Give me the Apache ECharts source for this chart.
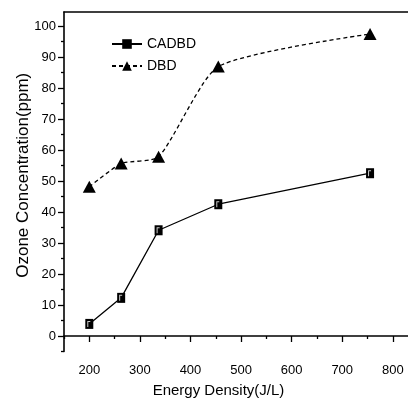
<!DOCTYPE html>
<html>
<head>
<meta charset="utf-8">
<script src="https://cdn.jsdelivr.net/npm/echarts@6/dist/echarts.min.js"></script>
<style>
  html, body { margin: 0; padding: 0; background: #fff; }
  #chart { width: 408px; height: 398px; }
</style>
</head>
<body>
<div id="chart"></div>
<script>
const energy = [200, 263, 337, 455, 755]
const cadbd = [3.9, 12.3, 34.1, 42.5, 52.5]
const dbd = [48.1, 55.6, 57.8, 86.9, 97.4]

const xMajor = [200, 300, 400, 500, 600, 700, 800]
const xMinor = [150, 250, 350, 450, 550, 650, 750]
const yMajor = [0, 10, 20, 30, 40, 50, 60, 70, 80, 90, 100]
const yMinor = [-5, 5, 15, 25, 35, 45, 55, 65, 75, 85, 95]

const font = 'Liberation Sans, Arial, sans-serif'
const ink = '#000'

// small white corner mark drawn over each CADBD square
const cornerSym = 'path://M0,0L3,0L3,1L1,1L1,6L0,6Z'

const chart = echarts.init(document.getElementById('chart'), null, { renderer: 'canvas' })

const axisBase = {
  type: 'value',
  min: 150,
  max: 830,
  splitLine: { show: false },
}
const yBase = {
  type: 'value',
  min: -5,
  max: 104.5,
  position: 'left',
  splitLine: { show: false },
}

const cadbdPts = energy.map((x, i) => [x, cadbd[i]])
const dbdPts = energy.map((x, i) => [x, dbd[i]])

chart.setOption({
  backgroundColor: '#fff',
  animation: false,
  grid: { left: 64, right: 0, top: 12, bottom: 46.5, outerBoundsMode: 'none' },
  legend: {
    orient: 'vertical',
    left: 106,
    top: 32,
    itemWidth: 30,
    itemHeight: 12,
    itemGap: 8,
    textStyle: { fontFamily: font, fontSize: 14, color: ink },
    data: ['CADBD', 'DBD'],
  },
  xAxis: [
    {
      ...axisBase,
      position: 'bottom',
      axisLine: { lineStyle: { color: ink, width: 1.6 } },
      axisTick: { customValues: xMajor, length: 6, lineStyle: { color: ink, width: 1.3 } },
      axisLabel: { customValues: xMajor, margin: 12, fontFamily: font, fontSize: 13, color: ink },
      name: 'Energy Density(J/L)',
      nameLocation: 'middle',
      nameGap: 32,
      nameMoveOverlap: false,
      nameTextStyle: { fontFamily: font, fontSize: 15, color: ink, padding: [0, 35, 0, 0] },
    },
    {
      ...axisBase,
      position: 'bottom',
      axisLine: { show: false },
      axisTick: { customValues: xMinor, length: 3, lineStyle: { color: ink, width: 1.3 } },
      axisLabel: { show: false },
    },
    {
      ...axisBase,
      position: 'top',
      axisLine: { lineStyle: { color: ink, width: 1.6 } },
      axisTick: { show: false },
      axisLabel: { show: false },
    },
  ],
  yAxis: [
    {
      ...yBase,
      axisLine: { lineStyle: { color: ink, width: 1.6 } },
      axisTick: { customValues: yMajor, length: 6, lineStyle: { color: ink, width: 1.3 } },
      axisLabel: { customValues: yMajor, margin: 8, fontFamily: font, fontSize: 13, color: ink },
      name: 'Ozone Concentration(ppm)',
      nameLocation: 'middle',
      nameGap: 32,
      nameMoveOverlap: false,
      nameTextStyle: { fontFamily: font, fontSize: 17, color: ink, padding: [0, 0, 0, 13] },
    },
    {
      ...yBase,
      axisLine: { show: false },
      axisTick: { customValues: yMinor, length: 3, lineStyle: { color: ink, width: 1.3 } },
      axisLabel: { show: false },
    },
  ],
  series: [
    {
      name: 'CADBD',
      type: 'line',
      data: cadbdPts,
      symbol: 'rect',
      symbolSize: [8, 10],
      itemStyle: { color: ink },
      lineStyle: { color: ink, width: 1.3 },
    },
    {
      name: 'CADBD-corner',
      type: 'scatter',
      data: cadbdPts,
      symbol: cornerSym,
      symbolSize: [3, 6],
      symbolOffset: [-0.5, 0],
      itemStyle: { color: '#fff' },
      silent: true,
      z: 5,
    },
    {
      name: 'DBD',
      type: 'line',
      data: dbdPts,
      smooth: 0.2,
      symbol: 'triangle',
      symbolSize: [13, 12],
      itemStyle: { color: ink },
      lineStyle: { color: ink, width: 1.3, type: [4, 3] },
    },
  ],
})
</script>
</body>
</html>
